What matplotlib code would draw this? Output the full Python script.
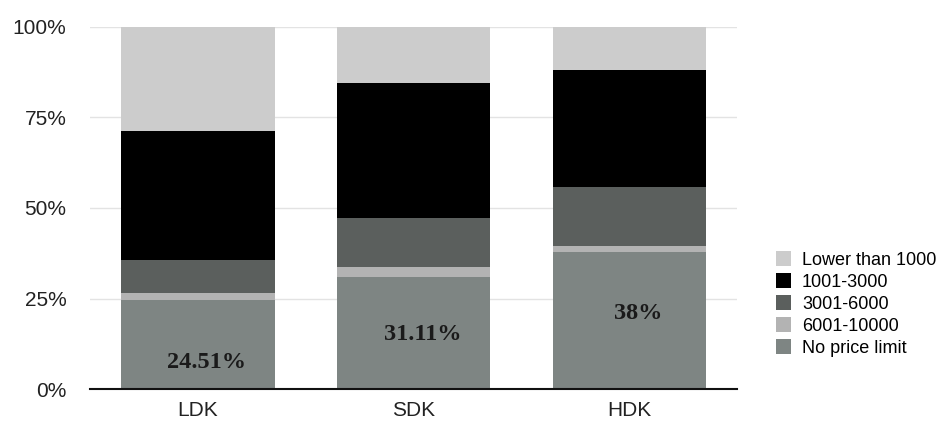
import matplotlib.pyplot as plt
import numpy as np

categories = ["LDK", "SDK", "HDK"]
series = ["Lower than 1000", "1001-3000", "3001-6000", "6001-10000", "No price limit"]

# percentages per group (bottom to top: no limit, 6001-10000, 3001-6000, 1001-3000, <1000)
no_limit = [24.51, 31.11, 38.0]
p6001_10000 = [2.1, 2.7, 1.6]
p3001_6000 = [9.1, 13.3, 16.3]
p1001_3000 = [35.5, 37.3, 32.1]
lower_1000 = [28.79, 15.59, 12.0]
labels = ["24.51%", "31.11%", "38%"]
label_y = [7.5, 15.0, 21.0]

colors = {"Lower than 1000": "#cccccc", "1001-3000": "#000000", "3001-6000": "#5b5f5d",
          "6001-10000": "#b3b3b3", "No price limit": "#7e8583"}

fig = plt.figure(figsize=(9.38, 4.21), dpi=100)
ax = fig.add_axes([0.096, 0.075, 0.69, 0.862])

x = np.arange(len(categories))
w = 0.71
stack = [("No price limit", no_limit), ("6001-10000", p6001_10000), ("3001-6000", p3001_6000),
         ("1001-3000", p1001_3000), ("Lower than 1000", lower_1000)]
bottom = np.zeros(len(categories))
handles = {}
for name, vals in stack:
    vals = np.array(vals)
    b = ax.bar(x, vals, w, bottom=bottom, color=colors[name], edgecolor="none", zorder=2, label=name)
    handles[name] = b
    bottom += vals

# value labels on the bottom segment
for xi, ly, t in zip(x, label_y, labels):
    ax.text(xi + 0.04, ly, t, ha="center", va="center", fontsize=17.5, fontweight="bold",
            family="Liberation Serif", color="#1a1a1a", zorder=3)

ax.set_xlim(-0.5, 2.5)
ax.set_ylim(0, 100)
ax.set_yticks([0, 25, 50, 75, 100])
ax.set_yticklabels(["0%", "25%", "50%", "75%", "100%"], family="Liberation Sans", fontsize=15, color="#222222")
ax.set_xticks(x)
ax.set_xticklabels(categories, family="Liberation Sans", fontsize=15, color="#222222")
ax.tick_params(axis="y", length=0, pad=17)
ax.tick_params(axis="x", length=0, pad=8)
ax.yaxis.grid(True, color="#e3e3e3", linewidth=1, zorder=0)
ax.set_axisbelow(True)
for s in ["left", "right", "top"]:
    ax.spines[s].set_visible(False)
ax.spines["bottom"].set_color("#111111")
ax.spines["bottom"].set_linewidth(1.5)
ax.spines["bottom"].set_zorder(4)

fig.legend([handles[s] for s in series], series, loc="center left", bbox_to_anchor=(0.827, 0.278),
           frameon=False, borderpad=0, borderaxespad=0, handlelength=0.85, handleheight=0.85,
           handletextpad=0.6, labelspacing=0.25, prop={"family": "Liberation Sans", "size": 13})

fig.savefig("out.png", dpi=100, facecolor="white")
